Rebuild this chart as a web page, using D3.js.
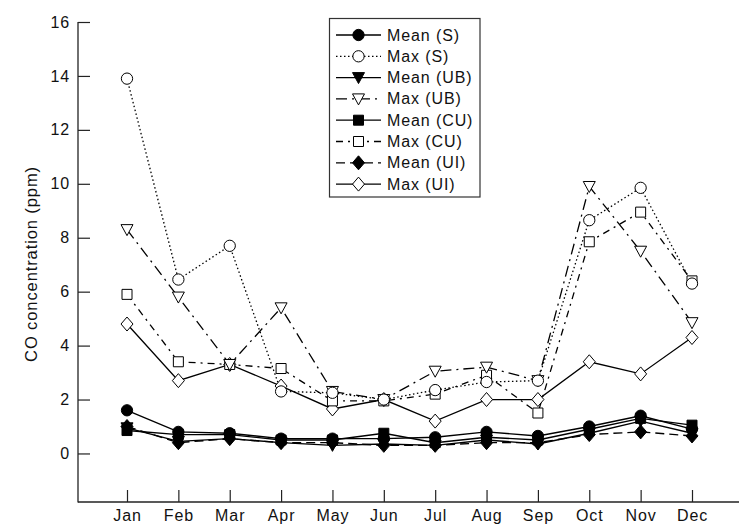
<!DOCTYPE html>
<html>
<head>
<meta charset="utf-8">
<script src="https://cdn.jsdelivr.net/npm/d3@7"></script>
<style>
  html, body { margin: 0; padding: 0; background: #fff; }
  svg { display: block; font-family: "Liberation Sans", Arial, Helvetica, sans-serif; }
</style>
</head>
<body>
<svg id="chart" width="739" height="527"></svg>
<script>
// Monthly CO concentrations (ppm) for four sites
const months = ["Jan", "Feb", "Mar", "Apr", "May", "Jun", "Jul", "Aug", "Sep", "Oct", "Nov", "Dec"];
const yTicks = [0, 2, 4, 6, 8, 10, 12, 14, 16];

const meanS  = [1.6, 0.8, 0.75, 0.55, 0.55, 0.55, 0.6, 0.8, 0.65, 1.0, 1.4, 0.9];
const maxS   = [13.9, 6.45, 7.7, 2.3, 2.25, 2.0, 2.35, 2.65, 2.7, 8.65, 9.85, 6.3];
const meanUB = [0.95, 0.45, 0.55, 0.4, 0.3, 0.35, 0.3, 0.5, 0.35, 0.75, 1.2, 0.75];
const maxUB  = [8.3, 5.8, 3.3, 5.4, 2.3, 2.0, 3.05, 3.2, 2.7, 9.9, 7.5, 4.85];
const meanCU = [0.85, 0.7, 0.7, 0.5, 0.5, 0.75, 0.4, 0.6, 0.5, 0.9, 1.3, 1.05];
const maxCU  = [5.9, 3.4, 3.3, 3.15, 1.95, 1.95, 2.2, 2.9, 1.5, 7.85, 8.95, 6.4];
const meanUI = [1.0, 0.4, 0.55, 0.4, 0.4, 0.3, 0.3, 0.4, 0.4, 0.7, 0.8, 0.65];
const maxUI  = [4.8, 2.7, 3.3, 2.5, 1.65, 2.0, 1.2, 2.0, 2.0, 3.4, 2.95, 4.3];

const series = [
  { name: "Mean (S)",  values: meanS,  symbol: "circle",   filled: true,  dash: null },
  { name: "Max (S)",   values: maxS,   symbol: "circle",   filled: false, dash: "1.5,2.5" },
  { name: "Mean (UB)", values: meanUB, symbol: "triangle", filled: true,  dash: null },
  { name: "Max (UB)",  values: maxUB,  symbol: "triangle", filled: false, dash: "11,5,2,5" },
  { name: "Mean (CU)", values: meanCU, symbol: "square",   filled: true,  dash: null },
  { name: "Max (CU)",  values: maxCU,  symbol: "square",   filled: false, dash: "7,5,2,5" },
  { name: "Mean (UI)", values: meanUI, symbol: "diamond",  filled: true,  dash: "9,5" },
  { name: "Max (UI)",  values: maxUI,  symbol: "diamond",  filled: false, dash: null }
];

const svg = d3.select("#chart");
const axisLeftX = 78, axisBottomY = 502, rightEdge = 739;
const fontSize = 16, spacing = 0.9;

const x = d3.scalePoint().domain(months).range([127, 692]);
const y = d3.scaleLinear().domain([-1.8, 16]).range([axisBottomY, 22]);

// Axes
const ink = "#222";
const yAxis = d3.axisLeft(y).tickValues(yTicks).tickSize(-12).tickPadding(8).tickFormat(d3.format("d"));
const gy = svg.append("g").attr("transform", `translate(${axisLeftX},0)`).call(yAxis);
gy.select(".domain").remove();
gy.selectAll(".tick line").attr("stroke", ink).attr("stroke-width", 1.2);
gy.selectAll(".tick text").attr("font-size", fontSize).attr("letter-spacing", spacing)
  .attr("fill", "#111").attr("font-family", "Liberation Sans, Arial, sans-serif");

const xAxis = d3.axisBottom(x).tickSize(-12).tickPadding(8);
const gx = svg.append("g").attr("transform", `translate(0,${axisBottomY})`).call(xAxis);
gx.select(".domain").remove();
gx.selectAll(".tick line").attr("stroke", ink).attr("stroke-width", 1.2);
gx.selectAll(".tick text").attr("font-size", fontSize).attr("letter-spacing", spacing)
  .attr("fill", "#111").attr("font-family", "Liberation Sans, Arial, sans-serif");

svg.append("line").attr("x1", axisLeftX).attr("x2", axisLeftX)
  .attr("y1", y(16)).attr("y2", axisBottomY + 0.5)
  .attr("stroke", ink).attr("stroke-width", 1.3);
svg.append("line").attr("x1", axisLeftX).attr("x2", rightEdge)
  .attr("y1", axisBottomY).attr("y2", axisBottomY)
  .attr("stroke", ink).attr("stroke-width", 1.3);

svg.append("text")
  .attr("transform", `translate(37,${(y(16) + axisBottomY) / 2 + 2}) rotate(-90)`)
  .attr("text-anchor", "middle")
  .attr("font-size", 16.5)
  .attr("letter-spacing", spacing)
  .attr("fill", "#111")
  .text("CO concentration (ppm)");

// Marker shapes
const symbolPaths = {
  circle:   d3.symbol().type(d3.symbolCircle).size(100)(),
  square:   d3.symbol().type(d3.symbolSquare).size(100)(),
  diamond:  "M0,-7L6,0L0,7L-6,0Z",
  triangle: "M-6,-5L6,-5L0,6Z"
};

function drawMarker(g, s, cx, cy) {
  g.append("path")
    .attr("d", symbolPaths[s.symbol])
    .attr("transform", `translate(${cx},${cy})`)
    .attr("fill", s.filled ? "#000" : "#fff")
    .attr("stroke", "#000")
    .attr("stroke-width", 1);
}

const line = d3.line().x((d, i) => x(months[i])).y(d => y(d));

const plot = svg.append("g");
series.forEach(s => {
  plot.append("path")
    .datum(s.values)
    .attr("d", line)
    .attr("fill", "none")
    .attr("stroke", "#000")
    .attr("stroke-width", s.filled ? 1.4 : 1.3)
    .attr("stroke-dasharray", s.dash);
});
series.slice().reverse().forEach(s => {
  s.values.forEach((v, i) => drawMarker(plot, s, x(months[i]), y(v)));
});

// Legend
const legend = svg.append("g");
legend.append("rect")
  .attr("x", 329.5).attr("y", 18.5).attr("width", 150.5).attr("height", 178.5)
  .attr("fill", "#fff").attr("stroke", "#333").attr("stroke-width", 1.2);
series.forEach((s, i) => {
  const cy = 35 + i * 21.3;
  legend.append("line")
    .attr("x1", 336).attr("x2", 381).attr("y1", cy).attr("y2", cy)
    .attr("stroke", "#000").attr("stroke-width", 1.3)
    .attr("stroke-dasharray", s.dash);
  drawMarker(legend, s, 358.5, cy);
  legend.append("text")
    .attr("x", 387).attr("y", cy + 5.5)
    .attr("font-size", fontSize).attr("letter-spacing", spacing)
    .attr("fill", "#111")
    .text(s.name);
});
</script>
</body>
</html>
